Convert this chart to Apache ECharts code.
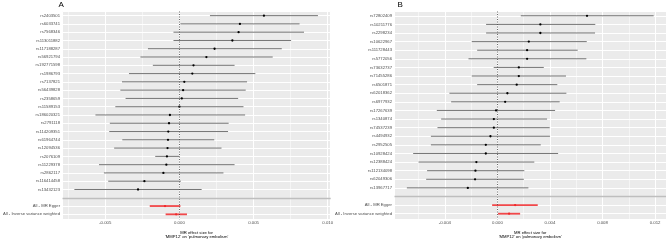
<!DOCTYPE html>
<html><head><meta charset="utf-8">
<script src="https://cdn.jsdelivr.net/npm/echarts@6/dist/echarts.min.js"></script>
<style>html,body{margin:0;padding:0;background:#fff}#c{width:669px;height:244px}</style>
</head><body><div id="c"></div>
<script>
// ---- Panel A data (top to bottom) ----
const snpA = ['rs2403501','rs6033741','rs7568346','rs113011882','rs117188287','rs56921794','rs192771598','rs1986793','rs7137821','rs56439828','rs2358659','rs11589153','rs186020321','rs2791118','rs114209351','rs61964744','rs12094536','rs2076109','rs11229378','rs2862117','rs116414458','rs13432123'];
const estA = [0.0057,0.00408,0.00399,0.00357,0.00237,0.00182,0.00095,0.00087,0.00033,0.00025,0.00016,0.0,-0.00064,-0.0007,-0.00075,-0.00077,-0.0008,-0.00084,-0.00088,-0.00108,-0.00236,-0.00279];
const loA  = [0.00206,0.00007,-0.0004,-0.0004,-0.00212,-0.00263,-0.00179,-0.0034,-0.00387,-0.00398,-0.00363,-0.00432,-0.00566,-0.00469,-0.00473,-0.00385,-0.0044,-0.00163,-0.00542,-0.00509,-0.0048,-0.00708];
const hiA  = [0.00934,0.0081,0.0084,0.00753,0.0069,0.00629,0.00372,0.00512,0.00456,0.00447,0.00396,0.00432,0.00443,0.00332,0.00328,0.00235,0.00284,0.0,0.00372,0.00297,0.0001,0.0015];
const mrEstA = [-0.00097,-0.00022];
const mrLoA  = [-0.002,-0.00093];
const mrHiA  = [0.00007,0.00051];

// ---- Panel B data (top to bottom) ----
const snpB = ['rs72802409','rs10211776','rs2298234','rs10622967','rs111728443','rs5772056','rs73632737','rs71455286','rs6501871','rs62018362','rs6977932','rs17267639','rs1340874','rs74537239','rs4494932','rs2952505','rs10928424','rs12388424','rs112134098','rs62049306','rs13967717'];
const estB = [0.00682,0.00327,0.00327,0.00239,0.00226,0.00226,0.00163,0.00163,0.00147,0.00076,0.00059,-0.0001,-0.00027,-0.00027,-0.00053,-0.00088,-0.00088,-0.0016,-0.00167,-0.0017,-0.00225];
const loB  = [0.00178,-0.00086,-0.00086,-0.00195,-0.00154,-0.0022,-0.00028,-0.00195,-0.00154,-0.00365,-0.00352,-0.00461,-0.00428,-0.00456,-0.00506,-0.00506,-0.00641,-0.006,-0.00535,-0.00542,-0.00689];
const hiB  = [0.01189,0.00745,0.00743,0.0068,0.00611,0.00677,0.00353,0.00522,0.00456,0.00525,0.00474,0.00439,0.00378,0.00398,0.004,0.0033,0.00462,0.00281,0.00205,0.00201,0.00236];
const mrEstB = [0.00135,0.00089];
const mrLoB  = [-0.0004,0.00005];
const mrHiB  = [0.00307,0.00173];

const methodLabels = ['All - MR Egger','All - Inverse variance weighted'];
const xTickStepA = 0.005, xTickStepB = 0.004;
const axisTitle = "MR effect size for\n'MMP12' on 'pulmonary embolism'";

function build(snp, est, lo, hi, mEst, mLo, mHi) {
  const labels = snp.concat([''], methodLabels);
  const rows = [];
  snp.forEach((s, i) => rows.push([est[i], lo[i], hi[i], i, 0]));
  mEst.forEach((v, j) => rows.push([v, mLo[j], mHi[j], snp.length + 1 + j, 1]));
  return {labels, rows, blank: snp.length};
}
const A = build(snpA, estA, loA, hiA, mrEstA, mrLoA, mrHiA);
const B = build(snpB, estB, loB, hiB, mrEstB, mrLoB, mrHiB);

const FONT = 'Liberation Sans, Arial, sans-serif';

function renderItem(params, api) {
  const y = api.value(3), tot = api.value(4);
  const p = api.coord([api.value(0), y]);
  const a = api.coord([api.value(1), y]);
  const b = api.coord([api.value(2), y]);
  const col = tot ? '#f0282a' : '#000000';
  return {type: 'group', children: [
    {type: 'line', shape: {x1: a[0], y1: a[1], x2: b[0], y2: b[1]}, style: {stroke: col, lineWidth: tot ? 1.8 : 0.55, opacity: tot ? 0.85 : 1}},
    {type: 'circle', shape: {cx: p[0], cy: p[1], r: 1.15}, style: {fill: col}}
  ]};
}

function xAxisFor(gi, min, max, step) {
  return {
    type: 'value', gridIndex: gi, min: min, max: max, minInterval: step, maxInterval: step,
    axisLine: {show: false}, axisTick: {show: false},
    axisLabel: {fontSize: 4.3, color: '#4d4d4d', fontFamily: FONT, margin: 2,
      formatter: v => (Math.abs(Math.round(v / step) * step - v) < 1e-9 ? v.toFixed(3) : '')},
    splitLine: {show: true, lineStyle: {color: '#ffffff', width: 1}},
    minorTick: {show: false, splitNumber: 2},
    minorSplitLine: {show: true, lineStyle: {color: '#ffffff', width: 0.5}},
    name: axisTitle, nameLocation: 'middle', nameGap: 6.3,
    nameTextStyle: {fontSize: 4.2, lineHeight: 4.4, color: '#000', fontFamily: FONT}
  };
}
function yAxisFor(gi, labels, max) {
  return {
    type: 'value', gridIndex: gi, inverse: true, min: -0.5, max: max, minInterval: 1, maxInterval: 1,
    axisLine: {show: false}, axisTick: {show: false},
    axisLabel: {fontSize: 4.2, color: '#4d4d4d', fontFamily: FONT, margin: 2.5,
      formatter: v => (Number.isInteger(v) && labels[v] !== undefined ? labels[v] : '')},
    splitLine: {show: true, lineStyle: {color: '#ffffff', width: 1}}
  };
}
function refSeries(gi, blank) {
  return [
    {type: 'line', xAxisIndex: gi, yAxisIndex: gi, data: [], z: 1, silent: true,
     markLine: {symbol: 'none', silent: true, animation: false, label: {show: false},
       lineStyle: {color: '#444', type: [1, 1.5], width: 0.8}, data: [{xAxis: 0}]}},
    {type: 'custom', xAxisIndex: gi, yAxisIndex: gi, z: 2, renderItem: renderItem,
     data: gi === 0 ? A.rows : B.rows, encode: {x: [0, 1, 2], y: 3}, animation: false, clip: false},
    {type: 'line', xAxisIndex: gi, yAxisIndex: gi, data: [], z: 3, silent: true,
     markLine: {symbol: 'none', silent: true, animation: false, label: {show: false},
       lineStyle: {color: '#bebebe', type: 'solid', width: 1.3}, data: [{yAxis: blank}]}}
  ];
}

const chart = echarts.init(document.getElementById('c'), null, {renderer: 'canvas'});
chart.setOption({
  animation: false,
  backgroundColor: '#ffffff',
  title: [
    {text: 'A', left: 58.5, top: 0.5, padding: 0, textStyle: {fontSize: 8, fontWeight: 'normal', color: '#000', fontFamily: FONT}},
    {text: 'B', left: 397.5, top: 0.5, padding: 0, textStyle: {fontSize: 8, fontWeight: 'normal', color: '#000', fontFamily: FONT}}
  ],
  grid: [
    {left: 58.7, top: 11.5, width: 272, height: 214.5, show: true, backgroundColor: '#ebebeb', borderWidth: 0},
    {left: 394.5, top: 11.5, width: 271.5, height: 214.5, show: true, backgroundColor: '#ebebeb', borderWidth: 0}
  ],
  xAxis: [xAxisFor(0, -0.00788, 0.0102, xTickStepA), xAxisFor(1, -0.00783, 0.01283, xTickStepB)],
  yAxis: [yAxisFor(0, A.labels, 24.6), yAxisFor(1, B.labels, 23.65)],
  series: refSeries(0, A.blank).concat(refSeries(1, B.blank))
});
</script>
</body></html>
